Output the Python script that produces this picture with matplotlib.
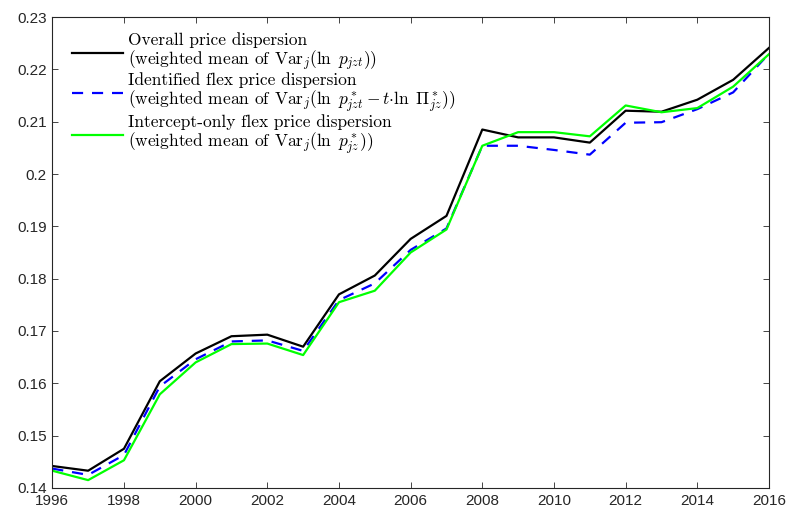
import matplotlib
matplotlib.use("Agg")
import matplotlib.pyplot as plt

years = list(range(1996, 2017))
overall = [0.1442, 0.1433, 0.1475, 0.1604, 0.1657, 0.1690, 0.1693, 0.1670, 0.1770, 0.1806,
           0.1876, 0.1920, 0.2085, 0.2070, 0.2070, 0.2060, 0.2121, 0.2119, 0.2142, 0.2180, 0.2241]
identified = [0.1437, 0.1425, 0.1463, 0.1594, 0.1646, 0.1680, 0.1682, 0.1662, 0.1759, 0.1791,
              0.1855, 0.1896, 0.2054, 0.2054, 0.2046, 0.2037, 0.2098, 0.2099, 0.2124, 0.2156, 0.2230]
intercept = [0.1433, 0.1415, 0.1453, 0.1579, 0.1640, 0.1675, 0.1676, 0.1654, 0.1755, 0.1777,
             0.1850, 0.1894, 0.2054, 0.2080, 0.2080, 0.2072, 0.2131, 0.2118, 0.2126, 0.2167, 0.2229]

labels = [
    "Overall price dispersion\n(weighted mean of $\\mathrm{Var}_j(\\ln\\ p_{jzt})$)",
    "Identified flex price dispersion\n(weighted mean of $\\mathrm{Var}_j(\\ln\\ p^*_{jzt}-t{\\cdot}\\ln\\ \\Pi^*_{jz})$)",
    "Intercept-only flex price dispersion\n(weighted mean of $\\mathrm{Var}_j(\\ln\\ p^*_{jz})$)",
]
xticks = list(range(1996, 2017, 2))
yticks = [0.14, 0.15, 0.16, 0.17, 0.18, 0.19, 0.2, 0.21, 0.22, 0.23]
yticklabels = ["0.14", "0.15", "0.16", "0.17", "0.18", "0.19", "0.2", "0.21", "0.22", "0.23"]

plt.rcParams['mathtext.fontset'] = 'cm'
plt.rcParams['font.family'] = ['Liberation Sans', 'DejaVu Sans']

fig = plt.figure(figsize=(7.9, 5.16), dpi=100)
ax = fig.add_axes([0.0662, 0.0543, 0.9072, 0.9127])

ax.plot(years, overall, color='black', lw=1.6, label=labels[0])
ax.plot(years, identified, color='#0000ff', lw=1.6, ls=(0, (5, 4)), label=labels[1])
ax.plot(years, intercept, color='#00ff00', lw=1.6, label=labels[2])

ax.set_xlim(1996, 2016)
ax.set_ylim(0.14, 0.23)
ax.set_xticks(xticks)
ax.set_xticklabels([str(x) for x in xticks])
ax.set_yticks(yticks)
ax.set_yticklabels(yticklabels)
ax.tick_params(direction='in', length=4, width=0.6, top=True, right=True,
               labelsize=11, colors='#262626', pad=4)
for s in ax.spines.values():
    s.set_linewidth(0.8)
    s.set_color('#262626')

leg = ax.legend(loc='upper left', bbox_to_anchor=(0.005, 1.0), frameon=False,
                prop={'family': 'cmr10', 'size': 12.5}, handlelength=2.95,
                handletextpad=0.3, labelspacing=0.0, borderaxespad=0.5,
                borderpad=0.4)
for t in leg.get_texts():
    t.set_linespacing(1.0)

fig.savefig("out.png", dpi=100)
